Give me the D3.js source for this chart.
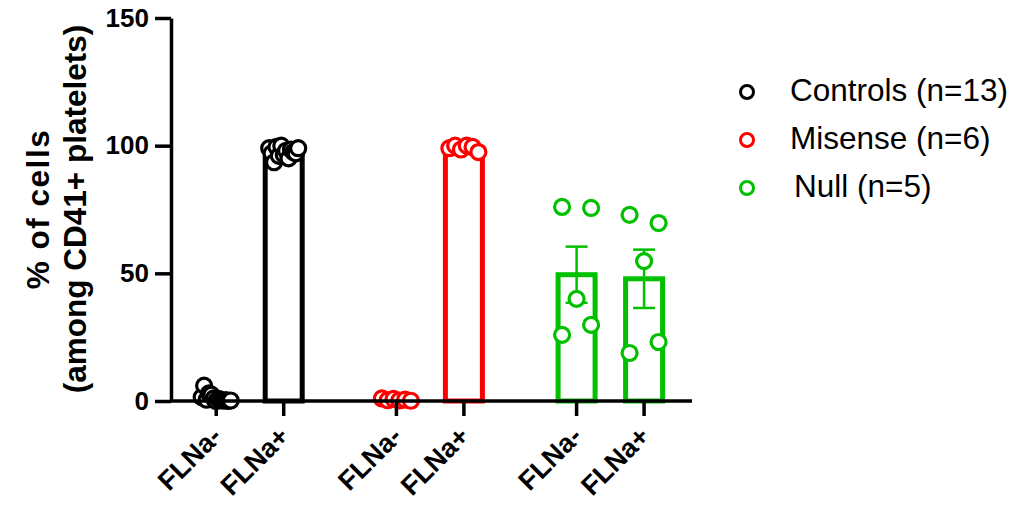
<!DOCTYPE html>
<html>
<head>
<meta charset="utf-8">
<script src="https://cdn.jsdelivr.net/npm/d3@7"></script>
<style>
  body { margin: 0; background: #fff; }
  text { font-family: "Liberation Sans", Arial, sans-serif; }
</style>
</head>
<body>
<div id="chart"></div>
<script>
// data (kept in the order the dots sit, left to right)
const groups = ["Controls (n=13)", "Misense (n=6)", "Null (n=5)"];
const groupColors = ["#000000", "#ff0000", "#00c000"];
const categories = ["FLNa-", "FLNa+"];
const controlsNeg = [1.5, 6, 0.5, 3, 2.5, 1, 0, 0.8, 0.3, 0.1, 0.4, 0, 0.2];
const controlsPos = [99, 97, 93.5, 99.5, 96, 100, 96.5, 98, 95, 98.5, 97.5, 97, 99];
const misenseNeg = [1, 0.3, 0.8, 0.2, 0.5, 0.1];
const misensePos = [99, 100, 98.5, 100, 99.5, 97.5];
const nullNeg = [76, 75.6, 40, 25.9, 29.8];
const nullPos = [72.9, 69.7, 54.8, 18.8, 23.1];
const yTicks = [0, 50, 100, 150];

const series = [
  { g: 0, c: 0, vals: controlsNeg },
  { g: 0, c: 1, vals: controlsPos },
  { g: 1, c: 0, vals: misenseNeg },
  { g: 1, c: 1, vals: misensePos },
  { g: 2, c: 0, vals: nullNeg },
  { g: 2, c: 1, vals: nullPos }
];

const width = 1033, height = 507;
const svg = d3.select("#chart").append("svg")
  .attr("width", width).attr("height", height);

// slot index -> pixel; groups separated by a wider gap
const slot = d => d.g * 2.67 + d.c;
const x = d3.scaleLinear().domain([-0.67, 7.05]).range([171, 692]);
const y = d3.scaleLinear().domain([0, 150]).range([401, 18]);

const barW = 37, r = 7.5;

series.forEach(s => {
  s.mean = d3.mean(s.vals);
  s.sem = d3.deviation(s.vals) / Math.sqrt(s.vals.length);
  s.cx = x(slot(s));
  s.color = groupColors[s.g];
});

// bars (open)
svg.selectAll(".bar").data(series).enter().append("rect")
  .attr("class", "bar")
  .attr("x", d => d.cx - barW / 2)
  .attr("y", d => y(d.mean))
  .attr("width", barW)
  .attr("height", d => y(0) - y(d.mean))
  .attr("fill", "none")
  .attr("stroke", d => d.color)
  .attr("stroke-width", 5);

// error bars (mean +/- SEM)
const eb = svg.selectAll(".err").data(series).enter().append("g")
  .attr("stroke", d => d.color).attr("stroke-width", 2.5);
eb.append("line")
  .attr("x1", d => d.cx).attr("x2", d => d.cx)
  .attr("y1", d => y(d.mean + d.sem)).attr("y2", d => y(Math.max(0, d.mean - d.sem)));
eb.append("line")
  .attr("x1", d => d.cx - 11).attr("x2", d => d.cx + 11)
  .attr("y1", d => y(d.mean + d.sem)).attr("y2", d => y(d.mean + d.sem));
eb.append("line")
  .attr("x1", d => d.cx - 11).attr("x2", d => d.cx + 11)
  .attr("y1", d => y(Math.max(0, d.mean - d.sem))).attr("y2", d => y(Math.max(0, d.mean - d.sem)));

// scatter layout: points close in y form a row, spread evenly across the column
// (within a row the dots keep their data order)
function spread(vals, cx) {
  const idx = d3.range(vals.length).sort((a, b) => vals[b] - vals[a]);
  const rows = [];
  idx.forEach(i => {
    const last = rows[rows.length - 1];
    if (last && y(vals[i]) - y(vals[last[last.length - 1]]) < 2 * r) last.push(i);
    else rows.push([i]);
  });
  const pts = [];
  const half = 14.5;
  rows.forEach(row => {
    row.sort((a, b) => a - b);
    const n = row.length;
    row.forEach((i, k) => {
      const off = n === 1 ? 0 : -half + (2 * half) * k / (n - 1);
      pts.push({ x: cx + off, y: y(vals[i]) });
    });
  });
  return pts;
}

series.forEach(s => {
  const pts = spread(s.vals, s.cx);
  svg.append("g").selectAll("circle").data(pts).enter().append("circle")
    .attr("cx", d => d.x).attr("cy", d => d.y).attr("r", r)
    .attr("fill", "white")
    .attr("stroke", s.color).attr("stroke-width", 3.2);
});

// y axis
const yAxis = svg.append("g").attr("transform", "translate(171,0)")
  .call(d3.axisLeft(y).tickValues(yTicks).tickSize(16).tickSizeOuter(0).tickPadding(6));
yAxis.select(".domain").attr("stroke-width", 3.5);
yAxis.selectAll(".tick line").attr("stroke-width", 3.5);
yAxis.selectAll("text").attr("font-size", 26).attr("font-weight", "bold")
  .attr("font-family", "Liberation Sans, Arial, sans-serif").attr("fill", "#000");

// x axis
const xg = svg.append("g");
xg.append("line").attr("x1", 171).attr("x2", 692)
  .attr("y1", y(0)).attr("y2", y(0))
  .attr("stroke", "#000").attr("stroke-width", 3.5);
xg.selectAll(".xt").data(series).enter().append("line")
  .attr("x1", d => d.cx).attr("x2", d => d.cx)
  .attr("y1", y(0)).attr("y2", y(0) + 15)
  .attr("stroke", "#000").attr("stroke-width", 3.5);
xg.selectAll(".xl").data(series).enter().append("text")
  .attr("transform", d => `translate(${d.cx + 7},${y(0) + 37}) rotate(-45)`)
  .attr("text-anchor", "end")
  .attr("font-size", 27).attr("font-weight", "bold")
  .text(d => categories[d.c]);

// y title
const yt = svg.append("text")
  .attr("transform", "translate(49,209) rotate(-90)")
  .attr("text-anchor", "middle")
  .attr("font-size", 31.5).attr("font-weight", "bold");
yt.append("tspan").attr("x", 0).attr("dy", 0).attr("letter-spacing", 1.5).text("% of cells");
yt.append("tspan").attr("x", 0).attr("dy", 37).text("(among CD41+ platelets)");

// legend
const lg = svg.append("g").selectAll("g").data(groups).enter().append("g")
  .attr("transform", (d, i) => `translate(747,${92 + i * 48})`);
lg.append("circle").attr("r", 6.5).attr("fill", "white")
  .attr("stroke", (d, i) => groupColors[i]).attr("stroke-width", 3);
lg.append("text")
  .attr("x", (d, i) => i === 2 ? 47 : 43).attr("y", 9)
  .attr("font-size", 31.5)
  .text(d => d);
</script>
</body>
</html>
